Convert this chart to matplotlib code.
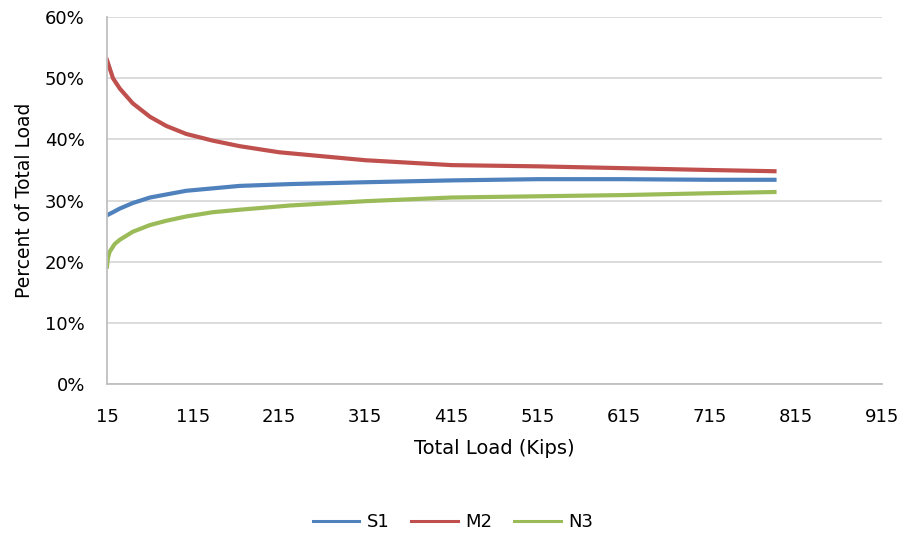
import matplotlib
matplotlib.use("Agg")
import matplotlib.pyplot as plt
from matplotlib.ticker import PercentFormatter

plt.rcParams['font.family'] = ['DejaVu Sans']

# load values (kips) and share of total load (%)
s1_kips = [15, 22, 30, 45, 65, 84, 107, 138, 169, 228, 315, 415, 515, 615, 715, 790]
s1_pct = [27.6, 28.1, 28.7, 29.6, 30.5, 31.0, 31.6, 32.0, 32.4, 32.7, 33.0, 33.3, 33.5, 33.5, 33.4, 33.4]

m2_kips = [15, 22, 30, 45, 65, 84, 107, 138, 169, 215, 315, 415, 515, 615, 715, 790]
m2_pct = [53.0, 50.0, 48.3, 45.9, 43.7, 42.2, 40.9, 39.8, 38.9, 37.9, 36.6, 35.8, 35.6, 35.3, 35.0, 34.8]

n3_kips = [15, 16, 18, 24, 30, 45, 65, 84, 107, 138, 169, 228, 315, 415, 515, 615, 715, 790]
n3_pct = [19.2, 20.5, 21.6, 22.9, 23.6, 24.9, 26.0, 26.7, 27.4, 28.1, 28.5, 29.2, 29.9, 30.5, 30.7, 30.9, 31.2, 31.4]

x_ticks = list(range(15, 916, 100))
y_ticks = list(range(0, 61, 10))

fig = plt.figure(figsize=(9.02, 5.37), dpi=100)
ax = fig.add_axes([0.1186, 0.285, 0.8594, 0.683])

ax.plot(s1_kips, s1_pct, color='#4f81bd', lw=3.0, label='S1')
ax.plot(m2_kips, m2_pct, color='#c0504d', lw=3.0, label='M2')
ax.plot(n3_kips, n3_pct, color='#9bbb59', lw=3.0, label='N3')

ax.set_xlim(15, 915)
ax.set_ylim(0, 60)
ax.set_xticks(x_ticks)
ax.set_yticks(y_ticks)
ax.yaxis.set_major_formatter(PercentFormatter(decimals=0))
ax.tick_params(length=0, labelsize=13, colors='#000000')
ax.tick_params(axis='x', pad=17)
ax.tick_params(axis='y', pad=16)
ax.grid(axis='y', color='#d9d9d9', lw=1.3)
ax.set_axisbelow(True)
for side in ['top', 'right']:
    ax.spines[side].set_visible(False)
for side in ['left', 'bottom']:
    ax.spines[side].set_color('#bfbfbf')
    ax.spines[side].set_linewidth(1.3)

ax.set_xlabel('Total Load (Kips)', fontsize=14, labelpad=10)
ax.set_ylabel('Percent of Total Load', fontsize=13.5, labelpad=8)

leg = fig.legend(loc='center', bbox_to_anchor=(0.502, 0.028), ncol=3, frameon=False,
                 fontsize=13, handlelength=2.6, columnspacing=1.2, handletextpad=0.4)
for line in leg.get_lines():
    line.set_linewidth(2.2)

fig.savefig('out.png', dpi=100)
